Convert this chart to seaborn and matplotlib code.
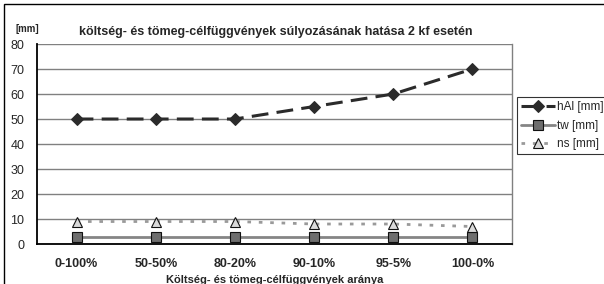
import pandas as pd
import matplotlib
matplotlib.use("Agg")
import matplotlib.pyplot as plt
import seaborn as sns
from matplotlib.patches import Rectangle

categories = ["0-100%", "50-50%", "80-20%", "90-10%", "95-5%", "100-0%"]
hal_mm = [50, 50, 50, 55, 60, 70]
tw_mm = [3, 3, 3, 3, 3, 3]
ns_mm = [9, 9, 9, 8, 8, 7]

sns.set_style("white")
plt.rcParams["font.family"] = ["Liberation Sans", "DejaVu Sans"]

df = pd.DataFrame({"kat": categories, "hAl [mm]": hal_mm,
                   "tw [mm]": tw_mm, "ns [mm]": ns_mm})

fig = plt.figure(figsize=(6.04, 2.84), dpi=100)
ax = fig.add_axes([0.0613, 0.1408, 0.7864, 0.7042])

# -------- SERIES --------
sns.lineplot(data=df, x="kat", y="hAl [mm]", ax=ax, color="#2b2b2b", lw=2.2,
             marker="D", markersize=6, markerfacecolor="#2b2b2b",
             markeredgecolor="#2b2b2b", label="hAl [mm]", sort=False)
ax.lines[-1].set_dashes([5.5, 2.7])
sns.lineplot(data=df, x="kat", y="tw [mm]", ax=ax, color="#858585", lw=2,
             marker="s", markersize=6.5, markerfacecolor="#6e6e6e",
             markeredgecolor="#111111", markeredgewidth=0.8, label="tw [mm]",
             sort=False)
sns.lineplot(data=df, x="kat", y="ns [mm]", ax=ax, color="#9a9a9a", lw=2,
             marker="^", markersize=7, markerfacecolor="#d9d9d9",
             markeredgecolor="#111111", markeredgewidth=0.8, label="ns [mm]",
             sort=False)
ax.lines[-1].set_dashes([1.3, 2.8])

# -------- AXES --------
ax.set_xlim(-0.5, 5.5)
ax.set_ylim(0, 80)
ax.set_yticks(range(0, 81, 10))
ax.yaxis.grid(True, color="#808080", lw=1)
ax.set_axisbelow(True)
ax.set_xticks(range(len(categories)))
ax.set_xticklabels(categories, fontweight="bold", fontsize=9)
ax.set_xticks([i - 0.5 for i in range(len(categories) + 1)], minor=True)
ax.tick_params(axis="x", which="major", length=0, pad=10)
ax.tick_params(axis="x", which="minor", length=4, width=1, direction="out",
               color="black")
ax.tick_params(axis="y", length=4, width=1, direction="out", color="black",
               labelsize=9, pad=5)
ax.set_ylabel("")
ax.set_xlabel("Költség- és tömeg-célfüggvények aránya", fontweight="bold",
              fontsize=8, labelpad=4)
for side in ["left", "bottom"]:
    ax.spines[side].set_color("black")
    ax.spines[side].set_linewidth(1.3)
ax.spines["top"].set_visible(False)
ax.spines["right"].set_color("#808080")
ax.spines["right"].set_linewidth(1)

fig.text(0.13, 0.888, "költség- és tömeg-célfüggvények súlyozásának hatása 2 kf esetén",
         fontweight="bold", fontsize=9, ha="left", va="center")
fig.text(0.025, 0.898, "[mm]", fontweight="bold", fontsize=7, ha="left",
         va="center")

leg = ax.legend(loc="upper left", bbox_to_anchor=(0.856, 0.658),
                bbox_transform=fig.transFigure, frameon=True,
                fancybox=False, edgecolor="black", fontsize=8.5,
                handlelength=2.9, handletextpad=0.15, borderpad=0.35,
                labelspacing=0.55, borderaxespad=0)
leg.get_frame().set_linewidth(0.8)

fig.patches.append(Rectangle((0.007, -0.02), 1.1, 1.006, transform=fig.transFigure,
                             fill=False, edgecolor="black", lw=1))

plt.savefig("out.png", dpi=100)
